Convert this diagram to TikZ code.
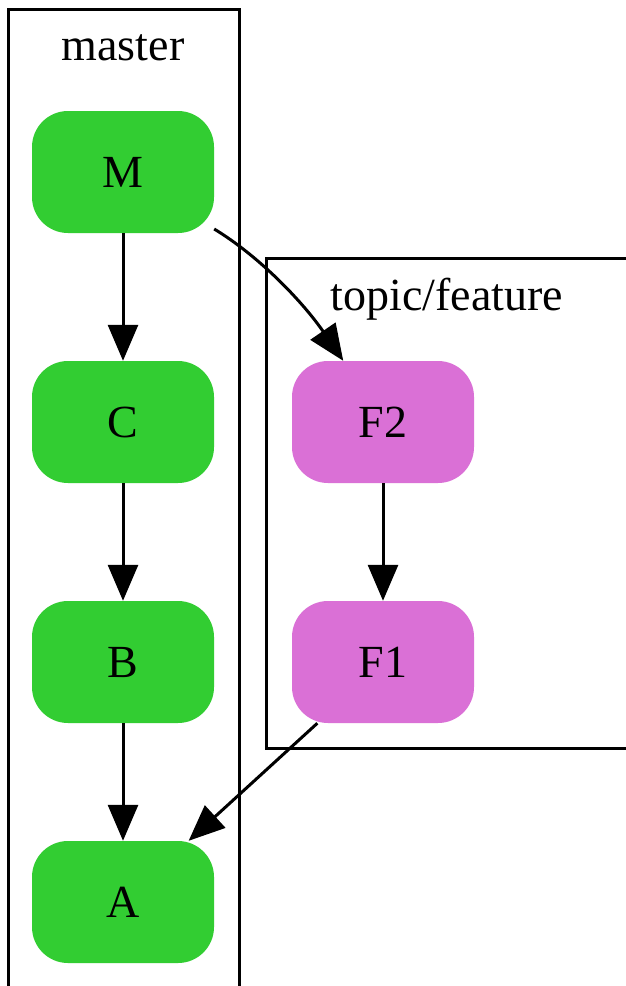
\documentclass[tikz,border=0pt]{standalone}
\usepackage{fontspec}
\setmainfont{Liberation Serif}
\usetikzlibrary{arrows.meta}
\definecolor{lgreen}{HTML}{32CD32}
\definecolor{orchid}{HTML}{DA70D6}
\tikzset{
  commit/.style={rectangle, rounded corners=36pt, minimum width=182pt, minimum height=122pt, inner sep=0pt, font=\fontsize{46}{55}\selectfont},
  mcommit/.style={commit, fill=lgreen},
  fcommit/.style={commit, fill=orchid},
  cluster/.style={draw=black, line width=3pt},
  clabel/.style={font=\fontsize{46}{55}\selectfont, inner sep=0pt, anchor=base},
  edge/.style={draw=black, line width=3pt, -{Triangle[length=36pt,width=30pt]}}
}
\begin{document}
\begin{tikzpicture}[x=1pt,y=-1pt]
\useasboundingbox (0,0) rectangle (626,986);
\clip (0,0) rectangle (626,986);
\fill[white] (0,0) rectangle (626,986);
\draw[cluster] (8,9) rectangle (239,1010);
\draw[cluster] (266,258) rectangle (650,748);
\node[clabel] (lm) at (123,60) {master};
\node[clabel] (lt) at (447,310) {topic/feature};
\node[mcommit] (M) at (123,172) {M};
\node[mcommit] (C) at (123,422) {C};
\node[mcommit] (B) at (123,662) {B};
\node[mcommit] (A) at (123,902) {A};
\node[fcommit] (F2) at (383,422) {F2};
\node[fcommit] (F1) at (383,662) {F1};
\draw[edge] (M) -- (C);
\draw[edge] (C) -- (B);
\draw[edge] (B) -- (A);
\draw[edge] (F2) -- (F1);
\draw[edge] (M.-32) .. controls (262,258) and (305,305) .. (F2.123);
\draw[edge] (F1.223) -- (A.43);
\end{tikzpicture}
\end{document}
